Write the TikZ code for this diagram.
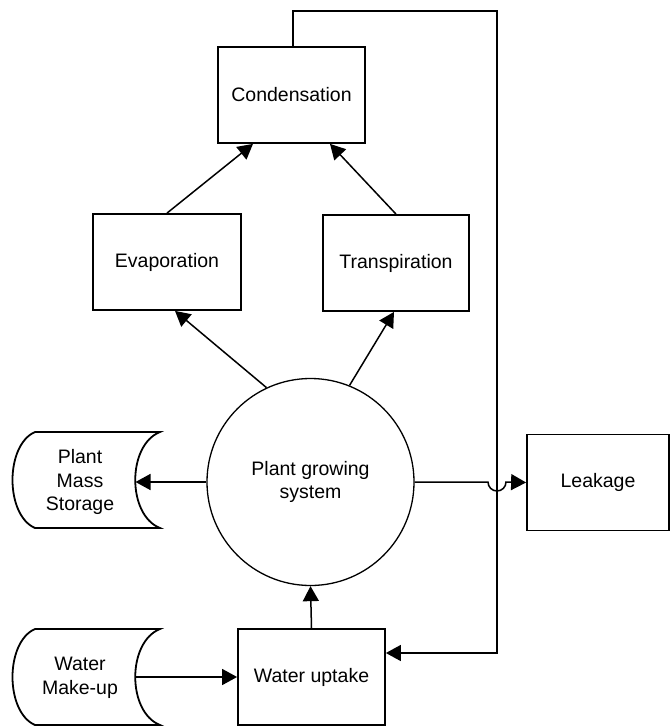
\documentclass[tikz,border=0pt]{standalone}
\usepackage{fontspec}
\setmainfont{Liberation Sans}
\usetikzlibrary{arrows.meta}
\begin{document}
\begin{tikzpicture}[x=1pt,y=-1pt,
  every node/.style={font=\fontsize{19.5}{23.5}\selectfont, align=center, inner sep=0pt},
  procbox/.style={draw, line width=1.8pt, rectangle, minimum width=#1, minimum height=96pt},
  procbox/.default=147pt,
  hub/.style={draw, line width=1.3pt, circle, minimum size=207pt},
  store/.style={line width=1.8pt},
  flow/.style={line width=1.5pt, -{Triangle[length=15pt,width=16pt]}},
  plain/.style={line width=1.8pt}]
\useasboundingbox (0,0) rectangle (670,726);

% nodes
\node[procbox] (cond) at (291.5,95) {Condensation};
\node[procbox=148pt] (evap) at (167,262) {Evaporation};
\node[procbox=146pt] (trans) at (396,263) {Transpiration};
\node[hub] (pgs) at (310.5,482) {Plant growing\\system};
\node[procbox=142pt] (leak) at (598,482.5) {Leakage};
\node[procbox] (wu) at (311.5,677) {Water uptake};

% storage shapes
\draw[store] (35,432) -- (160,432) .. controls (127,445) and (127,515) .. (160,528)
  -- (35,528) .. controls (5,515) and (5,445) .. (35,432) -- cycle;
\node (pms) at (80,482) {Plant\\Mass\\Storage};
\coordinate (pmsin) at (135.5,482);

\draw[store] (35,629) -- (160,629) .. controls (127,642) and (127,712) .. (160,725)
  -- (35,725) .. controls (5,712) and (5,642) .. (35,629) -- cycle;
\node (wmu) at (80,678) {Water\\Make-up};
\coordinate (wmuout) at (135.5,677);

% connectors
\draw[flow] (evap.north) -- (cond.south -| 253,0);
\draw[flow] (trans.north) -- (cond.south -| 330,0);
\draw[flow] (pgs.115) -- (evap.south -| 175,0);
\draw[flow] (pgs.68) -- (trans.south -| 394,0);
\draw[flow] (pgs.west) -- (pmsin);
\draw[flow] (wmuout) -- (wu.west);
\draw[flow] (wu.north) -- (pgs.south);

% loop from condensation to water uptake
\coordinate (c1) at (293,11);
\coordinate (c2) at (497,11);
\coordinate (c3) at (497,653);
\draw[flow, line width=1.6pt] (cond.north -| c1) -- (c1) -- (c2) -- (c3) -- (wu.east |- c3);

% leakage with jump
\coordinate (j1) at (488,482);
\draw[flow] (pgs.east) -- (j1) arc[start angle=180, end angle=0, radius=9] -- (leak.west);
\end{tikzpicture}
\end{document}
